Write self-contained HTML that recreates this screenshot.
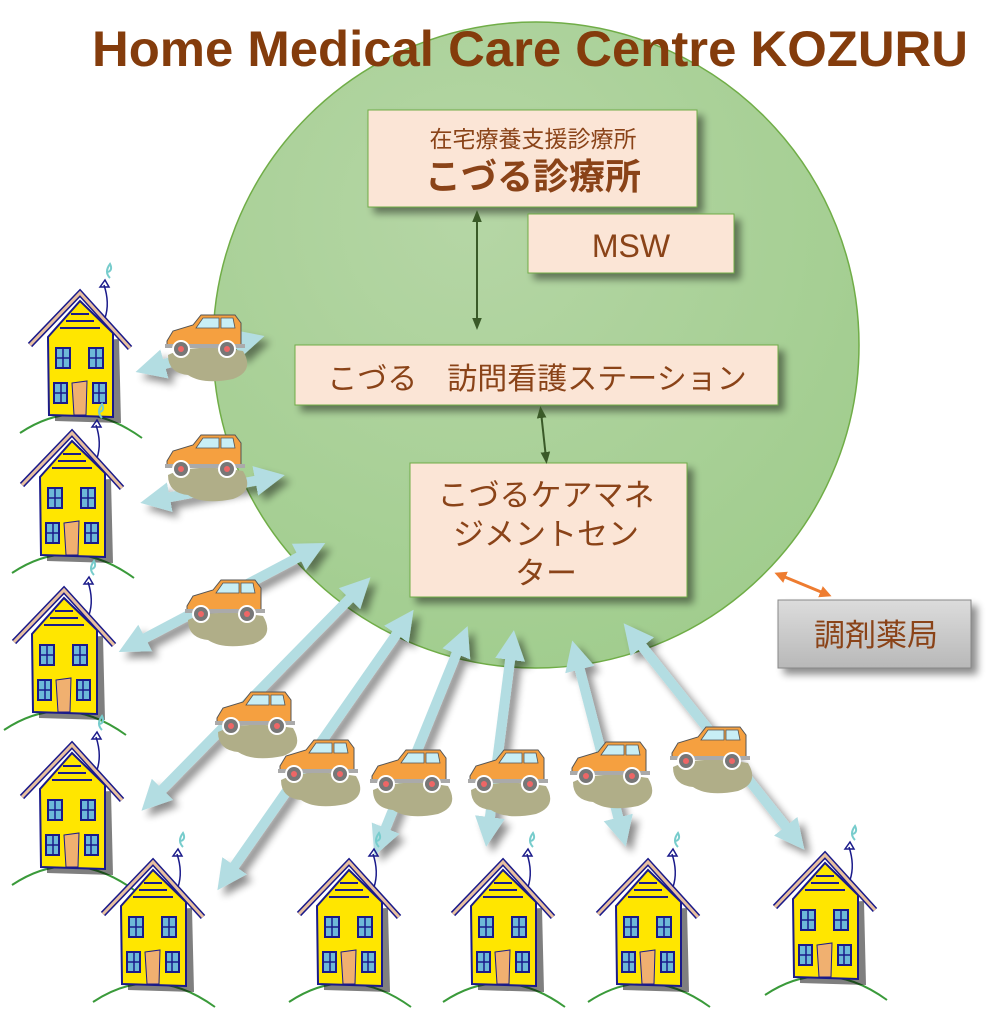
<!DOCTYPE html>
<html><head><meta charset="utf-8"><style>
html,body{margin:0;padding:0;background:#fff;width:1000px;height:1024px;overflow:hidden}
svg{display:block}
.jp{font-family:"Liberation Sans","Noto Sans CJK JP",sans-serif;fill:#8a4318}
</style></head><body>
<svg width="1000" height="1024" viewBox="0 0 1000 1024" xmlns="http://www.w3.org/2000/svg">
<defs>
<radialGradient id="cg" cx="0.4" cy="0.3" r="0.8">
<stop offset="0" stop-color="#b5d6a5"/><stop offset="1" stop-color="#9fcc8c"/>
</radialGradient>
<linearGradient id="gy" x1="0" y1="0" x2="0" y2="1"><stop offset="0" stop-color="#dcdcdc"/><stop offset="1" stop-color="#b8b8b8"/></linearGradient>
<filter id="sh" x="-30%" y="-30%" width="160%" height="160%"><feGaussianBlur in="SourceAlpha" stdDeviation="4"/><feOffset dx="6" dy="6"/><feComponentTransfer><feFuncA type="linear" slope="0.45"/></feComponentTransfer><feMerge><feMergeNode/><feMergeNode in="SourceGraphic"/></feMerge></filter>
<g id="house">
<path d="M-60,140 Q0,100 62,145" fill="none" stroke="#3a9a3a" stroke-width="2"/>
<path d="M-32,44 L33,40 L35,124 L-31,122 Z" fill="#000" opacity="0.5" transform="translate(6,6)"/>
<path d="M-32,44 L0,8 L33,40 L33,124 L-31,122 Z" fill="#ffe600" stroke="#1a1a8a" stroke-width="2"/>
<path d="M-14,28 h28 M-20,35 h40 M-9,21 h18" stroke="#1a1a8a" stroke-width="2"/>
<path d="M-50,52 L0,0 L50,55" fill="none" stroke="#1a1a8a" stroke-width="6"/>
<path d="M-50,52 L0,0 L50,55" fill="none" stroke="#e8c0a0" stroke-width="3"/>
<path d="M25,25 Q30,10 24,-8" fill="none" stroke="#1a1a8a" stroke-width="1.5"/>
<path d="M20,-6 L25,-13 L29,-6 Z" fill="none" stroke="#1a1a8a" stroke-width="1.5"/>
<path d="M30,-15 q-6,-6 0,-14 q3,6 -2,8" fill="none" stroke="#7cc" stroke-width="2"/>
<g fill="#6cb8d8" stroke="#1a1a8a" stroke-width="2">
<rect x="-24" y="55" width="14" height="20"/><rect x="9" y="55" width="14" height="20"/>
<rect x="-26" y="90" width="13" height="20"/><rect x="13" y="90" width="13" height="20"/>
</g>
<path d="M-17,55 v20 M-24,65 h14 M16,55 v20 M9,65 h14 M-19,90 v20 M-26,100 h13 M19,90 v20 M13,100 h13" stroke="#1a1a8a" stroke-width="1.5"/>
<path d="M-8,90 L7,88 L6,122 L-6,122 Z" fill="#f0b070" stroke="#1a1a8a" stroke-width="1"/>
</g>
<g id="car">
<path d="M5,42 Q30,30 80,38 Q92,58 70,66 Q40,72 25,62 Q5,60 5,42 Z" fill="#b0ae88"/>
<path d="M4,28 L10,18 L30,12 L38,2 L72,2 L78,10 L78,34 L4,34 Z" fill="#f5a040" stroke="#555" stroke-width="1"/>
<path d="M40,5 L56,5 L56,15 L33,15 Z M58,5 L70,5 L72,15 L58,15 Z" fill="#c8eef5" stroke="#555" stroke-width="0.8"/>
<rect x="2" y="31" width="80" height="4" fill="#aaa"/>
<circle cx="18" cy="36" r="9" fill="#fff"/><circle cx="18" cy="36" r="7" fill="#777"/><circle cx="18" cy="36" r="3" fill="#e66"/>
<circle cx="64" cy="36" r="9" fill="#fff"/><circle cx="64" cy="36" r="7" fill="#777"/><circle cx="64" cy="36" r="3" fill="#e66"/>
</g>
<marker id="ab" viewBox="0 0 10 10" refX="5" refY="5" markerWidth="3" markerHeight="3" orient="auto-start-reverse"><path d="M0,0 L10,5 L0,10 Z" fill="#b3dde2"/></marker>
<marker id="ag" viewBox="0 0 10 10" refX="5" refY="5" markerWidth="6" markerHeight="6" orient="auto-start-reverse"><path d="M0,1 L10,5 L0,9 Z" fill="#3a5a28"/></marker>
<marker id="ao" viewBox="0 0 10 10" refX="5" refY="5" markerWidth="4" markerHeight="4" orient="auto-start-reverse"><path d="M0,0 L10,5 L0,10 Z" fill="#ee7c30"/></marker>
</defs>

<circle cx="536" cy="345" r="323" fill="url(#cg)" stroke="#70ad47" stroke-width="1.5"/>

<text x="92" y="66" font-family="Liberation Sans, sans-serif" font-size="50" font-weight="bold" fill="#843c0c" textLength="876" lengthAdjust="spacingAndGlyphs">Home Medical Care Centre KOZURU</text>

<g filter="url(#sh)">
<rect x="368" y="110" width="329" height="97" fill="#fbe5d6" stroke="#70ad47"/>
<rect x="528" y="214" width="206" height="59" fill="#fbe5d6" stroke="#70ad47"/>
<rect x="295" y="345" width="483" height="60" fill="#fbe5d6" stroke="#70ad47"/>
<rect x="410" y="463" width="277" height="134" fill="#fbe5d6" stroke="#70ad47"/>
<rect x="778" y="600" width="193" height="68" fill="url(#gy)" stroke="#888"/>
</g>
<text class="jp" x="533" y="147" font-size="23" text-anchor="middle">在宅療養支援診療所</text>
<text class="jp" x="533" y="189" font-size="36" font-weight="bold" text-anchor="middle">こづる診療所</text>
<text class="jp" x="631" y="257" font-size="32" text-anchor="middle">MSW</text>
<text class="jp" x="537" y="389" font-size="30" text-anchor="middle">こづる　訪問看護ステーション</text>
<text class="jp" x="546" y="506" font-size="31" text-anchor="middle">こづるケアマネ</text>
<text class="jp" x="546" y="545" font-size="31" text-anchor="middle">ジメントセン</text>
<text class="jp" x="546" y="584" font-size="31" text-anchor="middle">ター</text>
<text class="jp" x="876" y="646" font-size="31" text-anchor="middle">調剤薬局</text>

<line x1="477" y1="216" x2="477" y2="324" stroke="#3a5a28" stroke-width="2" marker-start="url(#ag)" marker-end="url(#ag)"/>
<line x1="541" y1="412" x2="546" y2="458" stroke="#3a5a28" stroke-width="2" marker-start="url(#ag)" marker-end="url(#ag)"/>
<line x1="780" y1="575" x2="826" y2="594" stroke="#ee7c30" stroke-width="3" marker-start="url(#ao)" marker-end="url(#ao)"/>

<g stroke="#b3dde2" stroke-width="10" fill="none" filter="url(#sh)">
<line x1="150" y1="368" x2="250" y2="340" marker-start="url(#ab)" marker-end="url(#ab)"/>
<line x1="155" y1="500" x2="270" y2="478" marker-start="url(#ab)" marker-end="url(#ab)"/>
<line x1="132" y1="645" x2="312" y2="550" marker-start="url(#ab)" marker-end="url(#ab)"/>
<line x1="152" y1="800" x2="360" y2="588" marker-start="url(#ab)" marker-end="url(#ab)"/>
<line x1="226" y1="878" x2="405" y2="622" marker-start="url(#ab)" marker-end="url(#ab)"/>
<line x1="380" y1="842" x2="462" y2="640" marker-start="url(#ab)" marker-end="url(#ab)"/>
<line x1="488" y1="832" x2="512" y2="645" marker-start="url(#ab)" marker-end="url(#ab)"/>
<line x1="622" y1="832" x2="576" y2="655" marker-start="url(#ab)" marker-end="url(#ab)"/>
<line x1="795" y1="838" x2="633" y2="635" marker-start="url(#ab)" marker-end="url(#ab)"/>
</g>

<use href="#car" x="163" y="313"/>
<use href="#car" x="163" y="433"/>
<use href="#car" x="183" y="578"/>
<use href="#car" x="213" y="690"/>
<use href="#car" x="276" y="738"/>
<use href="#car" x="368" y="748"/>
<use href="#car" x="466" y="748"/>
<use href="#car" x="568" y="740"/>
<use href="#car" x="668" y="725"/>

<use href="#house" x="80" y="293"/>
<use href="#house" x="72" y="433"/>
<use href="#house" x="64" y="590"/>
<use href="#house" x="72" y="745"/>
<use href="#house" x="153" y="862"/>
<use href="#house" x="349" y="862"/>
<use href="#house" x="503" y="862"/>
<use href="#house" x="648" y="862"/>
<use href="#house" x="825" y="855"/>
</svg>
</body></html>
